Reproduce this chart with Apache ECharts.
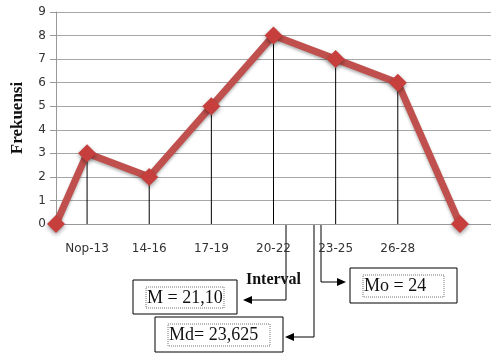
<!DOCTYPE html>
<html>
<head>
<meta charset="utf-8">
<script src="https://cdn.jsdelivr.net/npm/echarts@6/dist/echarts.min.js"></script>
<style>
  html, body { margin: 0; padding: 0; background: #fff; }
  #chart { width: 491px; height: 354px; }
</style>
</head>
<body>
<div id="chart"></div>
<script>
// class intervals (last slot is the empty closing class)
var intervals = ['Nop-13', '14-16', '17-19', '20-22', '23-25', '26-28', ''];
var frekuensi = [3, 2, 5, 8, 7, 6, 0];
// polygon positions (in class units) incl. the zero start / end points
var polyX = [0, 0.5, 1.5, 2.5, 3.5, 4.5, 5.5, 6.5];
var polyY = [0, 3, 2, 5, 8, 7, 6, 0];
var yTicks = [0, 1, 2, 3, 4, 5, 6, 7, 8, 9];

var polyData = polyX.map(function (x, i) { return [x, polyY[i]]; });

var serif = '"Liberation Serif", "DejaVu Serif", serif';

function box(x, y, w, h, label) {
    return [
        { type: 'rect', shape: { x: x, y: y, width: w, height: h },
          style: { fill: '#fff', stroke: '#000', lineWidth: 1 } },
        { type: 'rect', shape: { x: x + 13, y: y + 7, width: w - 26, height: h - 13 },
          style: { fill: 'none', stroke: '#777', lineWidth: 1, lineDash: [1, 1] } },
        { type: 'text', x: x + 14, y: y + h / 2 + 1,
          style: { text: label, font: '18px ' + serif, fill: '#111', verticalAlign: 'middle' } }
    ];
}

function arrow(pts, head) {
    return [
        { type: 'polyline', shape: { points: pts }, style: { stroke: '#000', lineWidth: 1, fill: 'none' } },
        { type: 'polygon', shape: { points: head }, style: { fill: '#000' } }
    ];
}

var chart = echarts.init(document.getElementById('chart'));
chart.setOption({
    animation: false,
    grid: { left: 56, top: 12, right: 0, bottom: 130, outerBoundsMode: 'none' },
    xAxis: [
        {
            type: 'category',
            data: intervals,
            boundaryGap: true,
            name: 'Interval',
            nameLocation: 'middle',
            nameGap: 48,
            nameTextStyle: { fontFamily: serif, fontWeight: 'bold', fontSize: 16, color: '#111' },
            axisLine: { lineStyle: { color: '#999' } },
            axisTick: {
                alignWithLabel: true, length: 3,
                interval: function (i) { return i < 6; },
                lineStyle: { color: '#000' }
            },
            axisLabel: { margin: 19, fontFamily: 'DejaVu Sans', fontSize: 12, color: '#333' }
        },
        { type: 'value', min: 0, max: 7, show: false }
    ],
    yAxis: {
        type: 'value',
        min: 0, max: 9, interval: 1,
        name: 'Frekuensi',
        nameLocation: 'middle',
        nameGap: 30,
        nameTextStyle: { fontFamily: serif, fontWeight: 'bold', fontSize: 17, color: '#111' },
        axisLine: { show: true, lineStyle: { color: '#999' } },
        axisTick: { show: true, length: 6, lineStyle: { color: '#999' } },
        axisLabel: { margin: 10, fontFamily: 'DejaVu Sans', fontSize: 12, color: '#333',
            formatter: function (v) { return yTicks.indexOf(v) >= 0 ? String(v) : ''; } },
        splitLine: { lineStyle: { color: '#a6a6a6', width: 1 } }
    },
    series: [
        {
            type: 'bar',
            xAxisIndex: 0,
            data: frekuensi,
            barWidth: 1,
            itemStyle: { color: '#000' },
            silent: true
        },
        {
            type: 'line',
            xAxisIndex: 1,
            data: polyData,
            symbol: 'diamond',
            symbolSize: 18,
            lineStyle: { color: '#c0504d', width: 7,
                shadowColor: 'rgba(0,0,0,0.3)', shadowBlur: 3, shadowOffsetY: 2 },
            itemStyle: { color: '#c63f3c',
                shadowColor: 'rgba(0,0,0,0.4)', shadowBlur: 4, shadowOffsetY: 2 },
            z: 5
        }
    ],
    graphic: [].concat(
        arrow([[286, 224], [286, 300], [250, 300]], [[243, 300], [252, 296], [252, 304]]),
        arrow([[314, 224], [314, 337], [292, 337]], [[285, 337], [294, 333], [294, 341]]),
        arrow([[321, 224], [321, 282], [338, 282]], [[346, 282], [337, 278], [337, 286]]),
        box(133, 280, 104, 34, 'M = 21,10'),
        box(155, 317, 128, 35, 'Md= 23,625'),
        box(350, 268, 107, 35, 'Mo = 24')
    )
});
</script>
</body>
</html>
